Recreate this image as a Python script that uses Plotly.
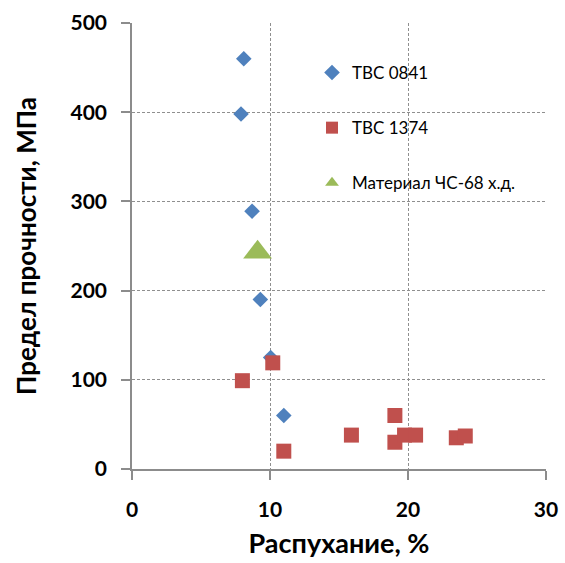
import plotly.graph_objects as go

# --- data ---
tvs0841_x = [8.1, 7.9, 8.7, 9.3, 10.05, 11.0]
tvs0841_y = [460, 398, 289, 190, 125, 60]

tvs1374_x = [8.0, 10.2, 11.0, 15.9, 19.05, 19.05, 19.75, 20.55, 23.5, 24.15]
tvs1374_y = [99, 119, 20, 38, 60, 30, 38, 38, 35, 37]

ch68_x = [9.1]
ch68_y = [243]

names = ["ТВС 0841", "ТВС 1374", "Материал ЧС-68 х.д."]
x_ticks = [0, 10, 20, 30]
y_ticks = [0, 100, 200, 300, 400, 500]

FONT = "Lato, 'Open Sans', 'DejaVu Sans', sans-serif"

fig = go.Figure()
fig.add_trace(go.Scatter(x=tvs0841_x, y=tvs0841_y, mode="markers", name=names[0],
                         legendgroup="a",
                         marker=dict(symbol="diamond", size=12, color="#4F81BD")))
fig.add_trace(go.Scatter(x=tvs1374_x, y=tvs1374_y, mode="markers", name=names[1],
                         legendgroup="b",
                         marker=dict(symbol="square", size=15, color="#C0504D")))
fig.add_trace(go.Scatter(x=ch68_x, y=ch68_y, mode="markers", name=names[2],
                         legendgroup="c",
                         marker=dict(symbol="triangle-up", size=25, color="#9BBB59")))

# white box behind legend (hides gridlines)
fig.add_shape(type="rect", xref="paper", yref="paper",
              x0=(310 - 132) / 414, x1=(542 - 132) / 414,
              y0=(469 - 213) / 446, y1=(469 - 47) / 446,
              fillcolor="white", line=dict(width=0), layer="between")

axis_common = dict(
    showgrid=True, gridcolor="#8f8f8f", gridwidth=1, griddash="3px,2px",
    showline=True, linecolor="#8c8c8c", linewidth=1.5,
    ticks="outside", ticklen=9, tickcolor="#8c8c8c", tickwidth=1.5,
    zeroline=False, automargin=False,
    tickfont=dict(family=FONT, size=21, color="black", weight="bold"),
)

fig.update_xaxes(range=[0, 30], tickvals=x_ticks, ticklabelstandoff=12,
                 title=dict(text="Распухание, %", standoff=14,
                            font=dict(family=FONT, size=27, color="black", weight="bold")),
                 **axis_common)
fig.update_yaxes(range=[0, 500], tickvals=y_ticks, ticklabelstandoff=10,
                 title=dict(text="Предел прочности, МПа", standoff=26,
                            font=dict(family=FONT, size=26, color="black", weight="bold")),
                 **axis_common)

fig.update_layout(
    width=565, height=563,
    margin=dict(l=132, r=19, t=23, b=94),
    plot_bgcolor="white", paper_bgcolor="white",
    showlegend=True,
    legend=dict(x=(312 - 132) / 414, y=(469 - 55) / 446, xanchor="left", yanchor="top",
                bgcolor="rgba(0,0,0,0)", tracegroupgap=30, itemwidth=30,
                traceorder="grouped", itemsizing="constant",
                font=dict(family=FONT, size=17, color="black")),
)

fig.write_html("out.html")
